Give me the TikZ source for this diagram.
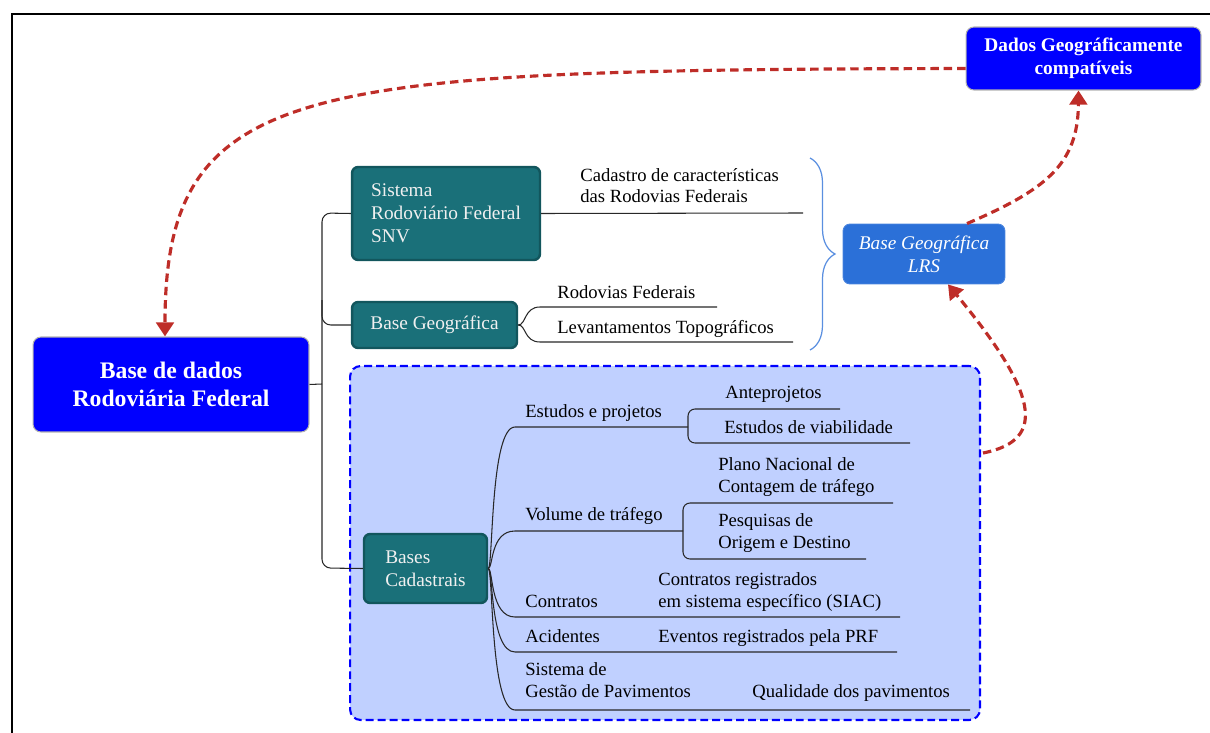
\documentclass[tikz,border=0pt]{standalone}
\usepackage{fontspec}
\setmainfont{Liberation Serif}
\usetikzlibrary{arrows.meta,calc,decorations.pathreplacing}
\definecolor{tealbox}{RGB}{26,112,121}
\definecolor{tealedge}{RGB}{18,86,93}
\definecolor{lrsblue}{RGB}{43,112,216}
\definecolor{cadfill}{RGB}{192,208,255}
\definecolor{arrowred}{RGB}{190,45,40}
\definecolor{bracecol}{RGB}{90,143,224}
\definecolor{treecol}{RGB}{40,40,40}

\begin{document}
\begin{tikzpicture}[x=0.02cm,y=-0.02cm,
  bigbox/.style={fill=blue,draw=gray!60,line width=0.6pt,rounded corners=4.5pt,text=white,align=center,font=\bfseries\fontsize{11}{13}\selectfont},
  tealnode/.style={fill=tealbox,draw=tealedge,line width=1.4pt,rounded corners=3.5pt,text=white!94!black,align=left,font=\fontsize{11}{13}\selectfont},
  lbl/.style={anchor=base west,inner sep=0pt,align=left,font=\fontsize{10.6}{12.5}\selectfont},
  treeln/.style={draw=treecol,line width=0.6pt},
  link/.style={draw=arrowred,line width=1.8pt,dash pattern=on 4.8pt off 2.8pt,-{Triangle[length=8pt,width=10pt]}}]

\useasboundingbox (0,0) rectangle (1210,733);
\draw[line width=1.1pt] (12,733) -- (12,14) -- (1210,14);

\node[draw=blue,fill=cadfill,dash pattern=on 4.5pt off 2.3pt,line width=1.2pt,rounded corners=6pt,minimum width=12.6cm,minimum height=7.08cm,inner sep=0pt] (cad) at (665,543) {};

\node[bigbox,minimum width=4.7cm,minimum height=1.26cm] (dados) at (1083.5,58.5) {Dados Geográficamente\\compatíveis};
\node[bigbox,font=\bfseries\fontsize{13.5}{15.5}\selectfont,minimum width=5.52cm,minimum height=1.9cm] (bdrf) at (171,384.5) {Base de dados\\Rodoviária Federal};

\node[tealnode,minimum width=3.76cm,minimum height=1.86cm] (snv) at (446,213.5) {Sistema\\Rodoviário Federal\\SNV};
\node[tealnode,minimum width=3.3cm,minimum height=0.92cm] (bgeo) at (434.5,325) {Base Geográfica};
\node[tealnode,minimum width=2.46cm,minimum height=1.38cm] (bcad) at (425.5,568.5) {Bases\\Cadastrais};

\node[fill=lrsblue,draw=lrsblue!85!white,line width=0.5pt,rounded corners=4pt,text=white,align=center,font=\itshape\fontsize{11}{13}\selectfont,minimum width=3.24cm,minimum height=1.2cm] (lrs) at (924,254) {Base Geográfica\\LRS};

\coordinate (trunk) at (322,384);
\draw[treeln] (bdrf.east) -- (trunk);
\draw[treeln,rounded corners=5pt] (snv.west) -- (322,213) -- (322,568) -- (bcad.west);
\draw[treeln,rounded corners=5pt] (322,300) -- (322,325) -- (bgeo.west);

\coordinate (snvend) at (803,213);
\draw[treeln] (snv.east) -- (snvend);
\node[lbl] (cadcar) at (580,203) {Cadastro de características\\das Rodovias Federais};

\coordinate (rodend) at (717,307);
\coordinate (levend) at (793,342);
\draw[treeln] (bgeo.east) .. controls ($(bgeo.east)+(8,0)$) and (524,307) .. (540,307) -- (rodend);
\draw[treeln] (bgeo.east) .. controls ($(bgeo.east)+(8,0)$) and (524,342) .. (540,342) -- (levend);
\node[lbl] (rodfed) at (557,298) {Rodovias Federais};
\node[lbl] (levtop) at (557,333) {Levantamentos Topográficos};

\draw[bracecol,line width=0.7pt,decorate,decoration={brace,amplitude=0.5cm}] (810,158) -- (810,350);

% ramos das bases cadastrais
\coordinate (estfork) at (688,427);
\coordinate (volfork) at (683,531);
\coordinate (contend) at (900,617);
\coordinate (acidend) at (897,652);
\coordinate (pavend) at (970,710);
\draw[treeln] (bcad.east) .. controls ($(bcad.east)+(5,0)$) and (490,427) .. (515,427) -- (estfork);
\draw[treeln] (bcad.east) .. controls ($(bcad.east)+(5,0)$) and (490,531) .. (515,531) -- (volfork);
\draw[treeln] (bcad.east) .. controls ($(bcad.east)+(5,0)$) and (490,617) .. (515,617) -- (contend);
\draw[treeln] (bcad.east) .. controls ($(bcad.east)+(5,0)$) and (490,652) .. (515,652) -- (acidend);
\draw[treeln] (bcad.east) .. controls ($(bcad.east)+(5,0)$) and (490,710) .. (515,710) -- (pavend);

\coordinate (anteend) at (840,409);
\coordinate (viabend) at (910,443);
\draw[treeln,rounded corners=4pt] (anteend) -- (688,409) -- (688,443) -- (viabend);
\coordinate (pnctend) at (893,503);
\coordinate (pesqend) at (866,559);
\draw[treeln,rounded corners=4pt] (pnctend) -- (683,503) -- (683,559) -- (pesqend);

\node[lbl] (estproj) at (525,417) {Estudos e projetos};
\node[lbl] (antep) at (725,398) {Anteprojetos};
\node[lbl] (estviab) at (724,433) {Estudos de viabilidade};
\node[lbl] (voltraf) at (525,520) {Volume de tráfego};
\node[lbl] (pnct) at (718,492) {Plano Nacional de\\Contagem de tráfego};
\node[lbl] (pesq) at (718,548) {Pesquisas de\\Origem e Destino};
\node[lbl] (contr) at (525,607) {Contratos};
\node[lbl] (siac) at (658,607) {Contratos registrados\\em sistema específico (SIAC)};
\node[lbl] (acid) at (525,642) {Acidentes};
\node[lbl] (prf) at (658,642) {Eventos registrados pela PRF};
\node[lbl] (sgp) at (525,697) {Sistema de\\Gestão de Pavimentos};
\node[lbl] (qualpav) at (752,697) {Qualidade dos pavimentos};

\draw[link] ($(dados.west)+(0,10)$) .. controls (300,70) and (165,80) .. ($(bdrf.north)+(-6,0)$);
\draw[link] ($(lrs.north)+(43,0)$) .. controls (1045,190) and (1078,165) .. ($(dados.south)+(-5,0)$);
\draw[link] ($(cad.east)+(2,-90)$) .. controls (1050,440) and (1035,390) .. ($(lrs.south)+(24,0)$);

\end{tikzpicture}
\end{document}
